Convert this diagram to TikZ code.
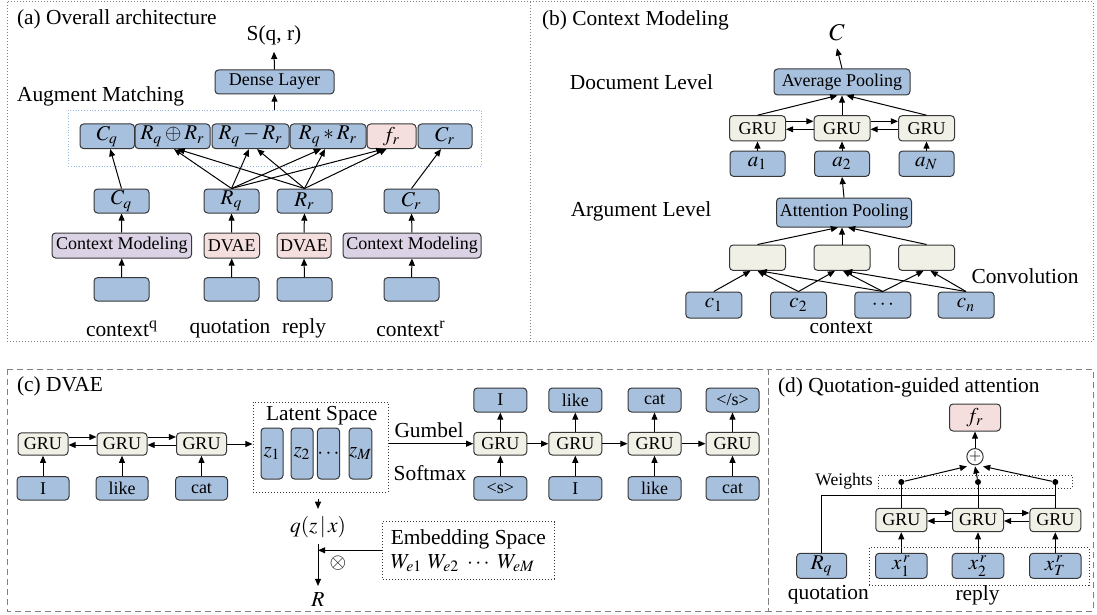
\documentclass[tikz,border=0pt]{standalone}
\usepackage{mathptmx}
\usepackage{fontspec}
\setmainfont{Liberation Serif}
\usetikzlibrary{arrows.meta, positioning, calc}

\definecolor{biru}{RGB}{167,192,222}
\definecolor{birugaris}{RGB}{150,185,230}
\definecolor{krem}{RGB}{240,240,231}
\definecolor{merahmuda}{RGB}{244,223,222}
\definecolor{ungu}{RGB}{219,211,229}
\definecolor{garis}{RGB}{55,55,55}

\begin{document}
\begin{tikzpicture}[x=0.5pt, y=-0.5pt,
  kotak/.style={draw=garis, rounded corners=1.8pt, line width=0.5pt, inner sep=0pt, font=\fontsize{9}{10}\selectfont},
  kb/.style={kotak, fill=biru},
  gru/.style={kotak, fill=krem},
  mat/.style={font=\fontsize{10.5}{12}\selectfont},
  teks/.style={font=\fontsize{10.7}{12}\selectfont},
  panah/.style={-{Triangle[length=3.6pt,width=3pt]}, line width=0.5pt},
  batas/.style={draw=gray, line width=0.5pt, densely dotted},
  titik/.style={circle, fill, inner sep=0pt, minimum size=3pt}]
  \useasboundingbox (0,0) rectangle (1097,615);

  % Bingkai panel
  \draw[batas] (7,2) rectangle (530,341);
  \draw[batas] (530,2) rectangle (1093,341);
  \draw[batas, densely dashed] (7,369) rectangle (768,611);
  \draw[batas, densely dashed] (768,369) rectangle (1093,611);

  % Panel (a)
  \node[teks, anchor=west] (ta) at (10,19) {(a) Overall architecture};
  \node[teks] (sqr) at (274,35) {S(q, r)};
  \node[kb, minimum width=59.5pt, minimum height=12pt] (dense) at (274.5,82) {Dense Layer};
  \node[teks, anchor=west] (amt) at (10,96) {Augment Matching};
  \node[draw=birugaris, densely dotted, line width=0.4pt, minimum width=206.5pt, minimum height=28pt, inner sep=0pt] (am) at (274.5,138) {};

  \foreach \n/\x/\w/\c/\t in {cqa/107.25/27.25/biru/C_q, add/172.5/37.5/biru/R_q\oplus R_r, sub/250.5/38.5/biru/R_q-R_r,
                              mul/328/38/biru/R_q\ast R_r, fra/391.5/24.5/merahmuda/f_r, cra/445/27/biru/C_r}
    \node[kotak, mat, fill=\c, minimum width=\w pt, minimum height=12.3pt] (\n) at (\x,136.3) {$\t$};

  \foreach \n/\x/\t in {cqb/121.5/C_q, rq/231.5/R_q, rr/304.5/R_r, crb/411.5/C_r}
    \node[kb, mat, minimum width=27.5pt, minimum height=12pt] (\n) at (\x,201) {$\t$};

  \node[kotak, fill=ungu, minimum width=69.75pt, minimum height=12.5pt] (cma) at (121.75,245.5) {Context Modeling};
  \node[kotak, fill=merahmuda, minimum width=27.75pt, minimum height=12.5pt] (dva) at (231.75,245.5) {DVAE};
  \node[kotak, fill=merahmuda, minimum width=27pt, minimum height=12.5pt] (dvb) at (304,245.5) {DVAE};
  \node[kotak, fill=ungu, minimum width=69pt, minimum height=12.5pt] (cmb) at (412,245.5) {Context Modeling};

  \foreach \n/\x in {ina/121.5, inb/231.5, inc/304.5, ind/411.5}
    \node[kb, minimum width=27.5pt, minimum height=11.7pt] (\n) at (\x,289.3) {};

  \node[teks] (lca) at (122,328.6) {context\textsuperscript{q}};
  \node[teks] (lqu) at (230,328.6) {quotation};
  \node[teks] (lre) at (304,328.6) {reply};
  \node[teks] (lcb) at (411,328.6) {context\textsuperscript{r}};

  \draw[panah] (dense.north) -- (sqr.south);
  \draw[panah] (am.north) -- (dense.south);
  \foreach \a/\b in {ina/cma, inb/dva, inc/dvb, ind/cmb, cma/cqb, dva/rq, dvb/rr, cmb/crb}
    \draw[panah] (\a.north) -- (\b.south);
  \foreach \a/\b/\d in {cqb/cqa/3, rq/add/1.5, rq/sub/-1.5, rq/mul/-7, rq/fra/-8,
                        rr/add/5, rr/sub/6.5, rr/mul/-3, rr/fra/-5, crb/cra/-4}
    \draw[panah] (\a.north) -- ($(\b.south)+(\d,0)$);

  % Panel (b)
  \node[teks, anchor=west] (tb) at (535,20) {(b) Context Modeling};
  \node[teks, font=\fontsize{12}{14}\selectfont] (cb) at (837,33) {$C$};
  \node[kb, minimum width=68pt, minimum height=13pt] (avg) at (842,82) {Average Pooling};
  \node[teks] (dl) at (641.5,82.5) {Document Level};
  \foreach \i/\x/\t in {1/757.5/a_1, 2/842/a_2, 3/926.5/a_N} {
    \node[gru, minimum width=28pt, minimum height=12.6pt] (bg\i) at (\x,128.3) {GRU};
    \node[kb, mat, minimum width=27.5pt, minimum height=12.7pt] (ba\i) at (\x,163.7) {$\t$};
    \node[gru, minimum width=28pt, minimum height=12.7pt] (cv\i) at (\x,257.7) {};
    \draw[panah] (ba\i.north) -- (bg\i.south);
  }
  \node[kb, minimum width=67.5pt, minimum height=14.5pt] (att) at (844,212.5) {Attention Pooling};
  \node[teks] (al) at (641,211.5) {Argument Level};
  \node[teks] (cvl) at (1025,276.6) {Convolution};
  \foreach \n/\x/\t in {c1/713.8/c_1, c2/798.5/c_2, dt/882.8/\cdots, cn/966/c_n}
    \node[kb, mat, minimum width=28pt, minimum height=13pt] (\n) at (\x,305) {$\t$};
  \node[teks] (ctx) at (841,328) {context};

  \draw[panah] (avg.north) -- (cb.south);
  \foreach \i/\d in {1/-4.6, 2/0, 3/4.5}
    \draw[panah] (bg\i.north) -- ($(avg.south)+(\d,0)$);
  \foreach \a/\b in {bg1/bg2, bg2/bg3} {
    \draw[panah] ([yshift=3.5pt]\a.east) -- ([yshift=3.5pt]\b.west);
    \draw[panah] ([yshift=-0.5pt]\b.west) -- ([yshift=-0.5pt]\a.east);
  }
  \draw[panah] (att.north) -- (ba2.south);
  \foreach \i/\d in {1/-6, 2/-2, 3/4}
    \draw[panah] (cv\i.north) -- ($(att.south)+(\d,0)$);
  \foreach \a/\b/\d in {c1/cv1/-7, c2/cv1/0, dt/cv1/2, c2/cv2/-7, dt/cv2/1, cn/cv2/3, dt/cv3/-3, cn/cv3/4}
    \draw[panah] (\a.north) -- ($(\b.south)+(\d,0)$);

  % Panel (c)
  \node[teks, anchor=west] (tc) at (10,386) {(c) DVAE};
  \foreach \i/\x/\t in {1/43/I, 2/122/like, 3/201.5/cat} {
    \node[gru, minimum width=25pt, minimum height=11.2pt] (eg\i) at (\x,444) {GRU};
    \node[kb, minimum width=26pt, minimum height=11.7pt] (ex\i) at (\x,488.3) {\t};
    \draw[panah] (ex\i.north) -- (eg\i.south);
  }
  \foreach \a/\b in {eg1/eg2, eg2/eg3} {
    \draw[panah] ([yshift=3.5pt]\a.east) -- ([yshift=3.5pt]\b.west);
    \draw[panah] ([yshift=-0.5pt]\b.west) -- ([yshift=-0.5pt]\a.east);
  }
  \node[draw=garis, densely dotted, line width=0.5pt, minimum width=67.5pt, minimum height=45pt, inner sep=0pt] (ls) at (320.5,447) {};
  \node[teks] (lst) at (321.7,416) {Latent Space};
  \foreach \i/\x/\t in {1/272/z_1, 2/302/z_2, 3/328.5/\cdots, 4/360.5/z_M}
    \node[kb, mat, minimum width=11pt, minimum height=25.5pt] (z\i) at (\x,453.5) {$\t$};
  \draw[panah] (eg3.east) -- (eg3.east -| ls.west);

  \node[teks] (qz) at (318,526.7) {$q(z\,|\,x)$};
  \node[teks] (rz) at (318,600) {$R$};
  \node[teks] (ot) at (338,563) {$\otimes$};
  \node[draw=garis, densely dotted, line width=0.5pt, teks, align=left, inner sep=2.5pt, minimum width=85.7pt, minimum height=28.7pt] (emb) at (468.3,550.3)
    {Embedding Space\\ $W_{e1}\ W_{e2}\ \cdots\ W_{eM}$};
  \draw[panah, shorten <=3pt] (ls.south -| qz.north) -- (qz.north);
  \draw[panah] (qz.south) -- (rz.north);
  \draw[panah] (emb.west) -- (emb.west -| qz.south);

  \node[teks] (gum) at (429,430) {Gumbel};
  \node[teks] (smx) at (430,473) {Softmax};
  \foreach \i/\x/\o/\n in {1/500.3/I/{<s>}, 2/575.3/like/I, 3/654.5/cat/like, 4/732.5/{</s>}/cat} {
    \node[gru, minimum width=26.5pt, minimum height=11.4pt] (dg\i) at (\x,443.7) {GRU};
    \node[kb, minimum width=26.5pt, minimum height=12pt] (do\i) at (\x,400) {\o};
    \node[kb, minimum width=26.5pt, minimum height=11.7pt] (di\i) at (\x,488.3) {\n};
    \draw[panah] (dg\i.north) -- (do\i.south);
    \draw[panah] (di\i.north) -- (dg\i.south);
  }
  \foreach \a/\b in {dg1/dg2, dg2/dg3, dg3/dg4}
    \draw[panah] (\a) -- (\b);
  \draw[panah] (ls.east |- dg1.west) -- (dg1.west);

  % Panel (d)
  \node[teks, anchor=west] (td) at (771,387) {(d) Quotation-guided attention};
  \node[kotak, mat, fill=merahmuda, minimum width=25.5pt, minimum height=13.5pt] (frd) at (975,417.5) {$f_r$};
  \node[circle, draw=garis, line width=0.5pt, minimum size=7.3pt, inner sep=0pt, font=\fontsize{8}{8}\selectfont] (op) at (975,456.7) {$+$};
  \draw[panah] (op) -- (frd);
  \node[draw=garis, densely dotted, line width=0.5pt, minimum width=97pt, minimum height=6.3pt, inner sep=0pt] (wb) at (975.3,482) {};
  \node[teks, font=\fontsize{8.8}{10}\selectfont] (wl) at (844,481) {Weights};
  \node[kb, mat, minimum width=25pt, minimum height=12.5pt] (rqd) at (821.7,565.8) {$R_q$};
  \coordinate (qe) at (1055.3,495);
  \draw[line width=0.5pt] (rqd.north) |- (qe);
  \foreach \i/\x/\t in {1/901.3/1, 2/978/2, 3/1055.3/T} {
    \node[gru, minimum width=25.5pt, minimum height=11.7pt] (qg\i) at (\x,520) {GRU};
    \node[kb, mat, minimum width=25.8pt, minimum height=12.5pt] (qx\i) at (\x,565.8) {$x^{\,r}_{\t}$};
    \node[titik] (w\i) at (\x,482) {};
    \draw[panah] (qx\i.north) -- (qg\i.south);
    \draw[line width=0.5pt] (qg\i.north) -- (w\i);
  }
  \foreach \i/\d in {1/-8, 2/0, 3/8}
    \draw[panah] (w\i) -- ($(op.south)+(\d,1)$);
  \foreach \a/\b in {qg1/qg2, qg2/qg3} {
    \draw[panah] ([yshift=3.5pt]\a.east) -- ([yshift=3.5pt]\b.west);
    \draw[panah] ([yshift=-0.5pt]\b.west) -- ([yshift=-0.5pt]\a.east);
  }
  \node[draw=garis, densely dotted, line width=0.5pt, minimum width=109.9pt, minimum height=18.7pt, inner sep=0pt] (xb) at (979.2,566.3) {};
  \node[teks] (qt) at (828.3,595) {quotation};
  \node[teks] (rp) at (977.5,595) {reply};
\end{tikzpicture}
\end{document}
